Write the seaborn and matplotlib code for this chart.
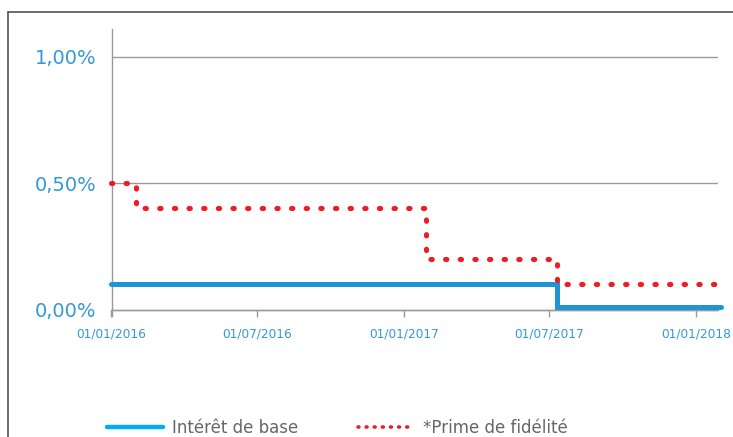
import matplotlib
matplotlib.use("Agg")
import matplotlib.pyplot as plt
from matplotlib.lines import Line2D
import pandas as pd
import seaborn as sns

# Interest rate series (in %), stepping at each change date
base_dates = ["2016-01-01", "2017-07-11", "2018-02-01"]
base_rate = [0.10, 0.01, 0.01]

prime_dates = ["2016-01-01", "2016-02-01", "2017-01-28", "2017-07-11", "2018-02-01"]
prime_rate = [0.50, 0.40, 0.20, 0.10, 0.10]

series_names = ["Intérêt de base", "*Prime de fidélité"]

x_tick_dates = ["2016-01-01", "2016-07-01", "2017-01-01", "2017-07-01", "2018-01-01"]
x_tick_labels = ["01/01/2016", "01/07/2016", "01/01/2017", "01/07/2017", "01/01/2018"]
y_tick_values = [0.0, 0.5, 1.0]
y_tick_labels = ["0,00%", "0,50%", "1,00%"]

BLUE = "#1f96d3"
LEGEND_BLUE = "#00aeef"
RED = "#ee1c25"
LABEL_BLUE = "#3399d6"
GRID = "#9a9a9a"

sns.set_style("white")
plt.rcParams["font.family"] = ["DejaVu Sans"]

base_df = pd.DataFrame({"date": pd.to_datetime(base_dates), "rate": base_rate})
prime_df = pd.DataFrame({"date": pd.to_datetime(prime_dates), "rate": prime_rate})

W, H = 733, 437
fig = plt.figure(figsize=(W / 100, H / 100), dpi=100)
ax = fig.add_axes([111.5 / W, 1 - 316 / H, (718.3 - 111.5) / W, (316 - 29.3) / H])

sns.lineplot(data=base_df, x="date", y="rate", ax=ax, color=BLUE, lw=3.6,
             drawstyle="steps-post", estimator=None, sort=False,
             solid_capstyle="round", solid_joinstyle="miter", clip_on=False, zorder=3)
sns.lineplot(data=prime_df, x="date", y="rate", ax=ax, color=RED, lw=3.7,
             drawstyle="steps-post", estimator=None, sort=False,
             linestyle=(0, (0.25, 2.6)), dash_capstyle="round", clip_on=False, zorder=4)

ax.set_xlim(pd.Timestamp("2016-01-01"), pd.Timestamp("2018-01-29"))
ax.set_ylim(-0.025, 1.108)

ax.set_xticks(pd.to_datetime(x_tick_dates))
ax.set_xticklabels(x_tick_labels)
ax.set_yticks(y_tick_values)
ax.set_yticklabels(y_tick_labels)
ax.set_xlabel("")
ax.set_ylabel("")

ax.grid(axis="y", color=GRID, lw=1)
ax.grid(axis="x", visible=False)
for side in ("top", "right"):
    ax.spines[side].set_visible(False)
ax.spines["bottom"].set_position(("data", 0))
ax.spines["bottom"].set_color(GRID)
ax.spines["bottom"].set_linewidth(1)
ax.spines["left"].set_color(GRID)
ax.spines["left"].set_linewidth(1)

ax.tick_params(axis="x", length=5, width=1, color=GRID, pad=8,
               labelsize=8.7, labelcolor=LABEL_BLUE, bottom=True)
ax.tick_params(axis="y", length=0, pad=11, labelsize=14, labelcolor=LABEL_BLUE)

handles = [
    Line2D([], [], color=LEGEND_BLUE, lw=3.2),
    Line2D([], [], color=RED, lw=2.6, linestyle=(0, (0.25, 2.0)), dash_capstyle="round"),
]
fig.legend(handles, series_names, loc="center left",
           bbox_to_anchor=(107 / W, 1 - 428 / H), ncol=2, frameon=False,
           fontsize=12, labelcolor="#666666", handlelength=3.35,
           handletextpad=0.55, columnspacing=3.6, borderpad=0, borderaxespad=0)

# outer frame (top and left edges)
fig.add_artist(Line2D([7.5 / W, 7.5 / W], [0, 1 - 11.7 / H], transform=fig.transFigure,
                      color="#444444", lw=1.1))
fig.add_artist(Line2D([7.5 / W, 1], [1 - 11.7 / H, 1 - 11.7 / H], transform=fig.transFigure,
                      color="#444444", lw=1.1))

fig.savefig("out.png", dpi=100)
